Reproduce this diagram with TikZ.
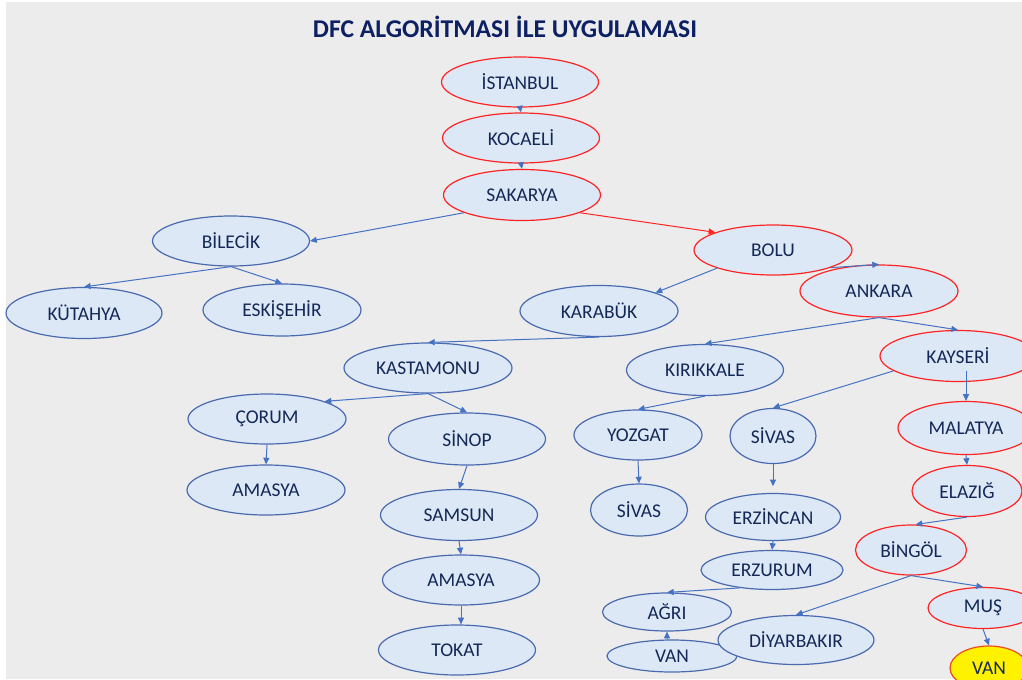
\documentclass[tikz,border=0pt]{standalone}
\usepackage{fontspec}
\setmainfont{Carlito}
\usetikzlibrary{shapes.geometric,arrows.meta}
\definecolor{bgc}{HTML}{ECECEC}
\definecolor{nfl}{HTML}{DDE8F6}
\definecolor{nbd}{HTML}{4A6AB0}
\definecolor{nred}{HTML}{FF2424}
\definecolor{acol}{HTML}{4472C4}
\definecolor{ntx}{HTML}{142857}
\definecolor{ttl}{HTML}{0D2063}
\definecolor{vanbd}{HTML}{F04A1A}
\tikzset{
  cn/.style 2 args={ellipse, draw=nbd, fill=nfl, line width=0.9pt,
    minimum width=#1*0.75pt, minimum height=#2*0.75pt, inner sep=0pt,
    text=ntx, font=\fontsize{14.6}{16}\selectfont},
  rn/.style 2 args={cn={#1}{#2}, draw=nred},
  yn/.style 2 args={cn={#1}{#2}, draw=vanbd, fill=yellow},
  arr/.style={draw=acol, line width=0.75pt, -{Triangle[length=5pt,width=4.5pt]}},
  rarr/.style={arr, draw=nred},
  titlestyle/.style={text=ttl, font=\bfseries\fontsize{19.2}{22}\selectfont, inner sep=0pt},
}
\begin{document}
\begin{tikzpicture}[x=0.75pt,y=-0.75pt]
\useasboundingbox (0,0) rectangle (1022,679);
\fill[white] (0,0) rectangle (1022,679);
\fill[bgc] (6,2) rectangle (1022,679);
\begin{scope}
\clip (0,0) rectangle (1022,679);
\node[titlestyle] (title) at (505,27) {DFC ALGORİTMASI İLE UYGULAMASI};
% red path
\node[rn={157}{50}] (ist) at (520,82) {İSTANBUL};
\node[rn={157}{50}] (koc) at (521,138) {KOCAELİ};
\node[rn={157}{51}] (sak) at (522,195) {SAKARYA};
\node[rn={158}{50}] (bol) at (773,250) {BOLU};
\node[rn={158}{52}] (ank) at (879,291) {ANKARA};
\node[rn={156}{51}] (kay) at (958,356) {KAYSERİ};
\node[rn={136}{53}] (mal) at (966,428) {MALATYA};
\node[rn={110}{51}] (ela) at (967,491) {ELAZIĞ};
\node[rn={111}{50}] (bin) at (911,550) {BİNGÖL};
\node[rn={110}{41}] (mus) at (983,608) {MUŞ};
\node[yn={78}{44}] (van2) at (989,668) {VAN};
% blue nodes
\node[cn={157}{50}] (bil) at (231,241) {BİLECİK};
\node[cn={156}{51}] (kut) at (84,313) {KÜTAHYA};
\node[cn={158}{52}] (esk) at (282,310) {ESKİŞEHİR};
\node[cn={158}{51}] (kar) at (599,311) {KARABÜK};
\node[cn={168}{50}] (kast) at (428,368) {KASTAMONU};
\node[cn={157}{51}] (kir) at (705,370) {KIRIKKALE};
\node[cn={158}{50}] (cor) at (267,419) {ÇORUM};
\node[cn={157}{52}] (sin) at (467,439) {SİNOP};
\node[cn={158}{50}] (ama1) at (266,490) {AMASYA};
\node[cn={157}{51}] (sam) at (459,515) {SAMSUN};
\node[cn={157}{50}] (ama2) at (461,580) {AMASYA};
\node[cn={157}{50}] (tok) at (457,650) {TOKAT};
\node[cn={128}{50}] (yoz) at (638,435) {YOZGAT};
\node[cn={86}{55}] (siv1) at (773,436) {SİVAS};
\node[cn={97}{52}] (siv2) at (639,510) {SİVAS};
\node[cn={135}{47}] (erzi) at (773,517) {ERZİNCAN};
\node[cn={142}{39}] (erzu) at (772,570) {ERZURUM};
\node[cn={129}{38}] (agri) at (667,612) {AĞRI};
\node[cn={130}{32}] (van1) at (672,656) {VAN};
\node[cn={156}{49}] (diy) at (796,640) {DİYARBAKIR};
% connectors
\draw[arr] (ist.south) -- (koc.north);
\draw[arr] (koc.south) -- (sak.north);
\draw[arr] (sak.197) -- (bil.east);
\draw[rarr] (sak.-17) -- (bol.163);
\draw[arr] (bil.south) -- (kut.north);
\draw[arr] (bil.south) -- (esk.north);
\draw[arr] (bol.198) -- (kar.18);
\draw[arr] (bol.-17) -- (ank.north);
\draw[arr] (kar.south) -- (kast.north);
\draw[arr] (ank.south) -- (kir.north);
\draw[arr] (ank.south) -- (kay.north);
\draw[arr] (kay.193) -- (siv1.north);
\path (kay.south -| mal.north) coordinate (kaym);
\draw[arr] ([yshift=8pt]kaym) -- (mal.north);
\draw[arr] (kir.south) -- (yoz.north);
\draw[arr] (yoz.south) -- (siv2.north);
\draw[arr, shorten >=5pt] (siv1.south) -- (erzi.north);
\draw[arr] (erzi.south) -- (erzu.north);
\draw[arr] (erzu.209) -- (agri.north);
\draw[arr] (van1.north -| agri.south) -- (agri.south);
\draw[arr] (bin.south) -- (diy.north);
\draw[arr] (bin.south) -- (mus.north);
\draw[arr] (mus.south) -- (van2.north);
\draw[arr] (mal.south) -- (ela.north);
\draw[arr] (ela.south) -- (bin.80);
\draw[arr] (kast.south) -- (cor.17);
\draw[arr] (kast.south) -- (sin.north);
\draw[arr] (cor.south) -- (ama1.north);
\draw[arr] (sin.south) -- (sam.north);
\draw[arr] (sam.south) -- (ama2.north);
\draw[arr] (ama2.south) -- (ama2.south |- tok.north);
\end{scope}
\end{tikzpicture}
\end{document}
